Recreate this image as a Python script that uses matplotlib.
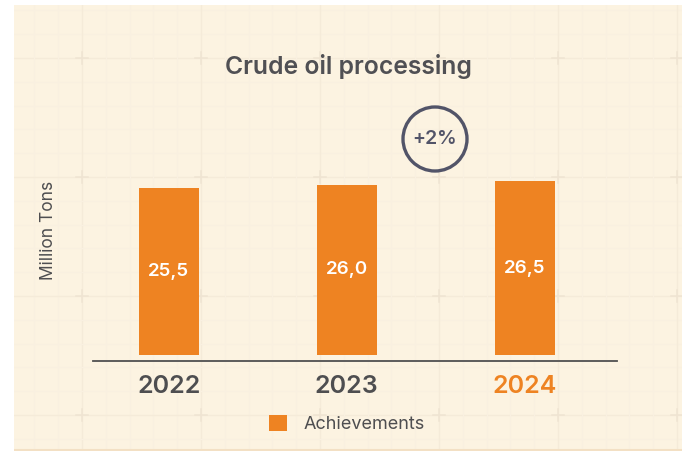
import matplotlib
matplotlib.use("Agg")
import matplotlib.pyplot as plt
from matplotlib.patches import Rectangle, Ellipse
import numpy as np

# ---- data ----
years = ["2022", "2023", "2024"]
values = [25.5, 26.0, 26.5]
value_labels = ["25,5", "26,0", "26,5"]
title = "Crude oil processing"
ylabel = "Million Tons"
legend_label = "Achievements"
badge = "+2%"

W, H = 686, 454
DPI = 100
ORANGE = "#EE8322"
DARK = "#4E4E50"
BADGE = "#525468"
CREAM = "#FCF3E1"
FONT = ["Inter", "DejaVu Sans"]
plt.rcParams["font.family"] = FONT

fig = plt.figure(figsize=(W / DPI, H / DPI), dpi=DPI, facecolor="white")

def fx(px):
    return px / W

def fy(py):
    return 1 - py / H

# cream panel
x0, x1, y0, y1 = 14, 682, 5, 451
bg = fig.add_axes([fx(x0), fy(y1), fx(x1 - x0), (y1 - y0) / H])
bg.set_xlim(x0, x1)
bg.set_ylim(y1, y0)
bg.set_facecolor(CREAM)
for s in bg.spines.values():
    s.set_visible(False)
bg.set_xticks([]); bg.set_yticks([])
# faint grid (decorative)
major_x0, major_y0, step = 82.0, 177.0, 119.0
minor = step / 5
MAJ_C, MIN_C, CROSS_C = "#F5EBD9", "#F9F0E0", "#EFE4D2"
for k in range(-10, 40):
    gx = major_x0 + k * minor
    if x0 < gx < x1:
        major = (k % 5 == 0)
        bg.axvline(gx, color=MAJ_C if major else MIN_C, lw=1.0 if major else 0.8, zorder=0)
    gy = major_y0 + k * minor
    if y0 < gy < y1:
        major = (k % 5 == 0)
        bg.axhline(gy, color=MAJ_C if major else MIN_C, lw=1.0 if major else 0.8, zorder=0)
for i in range(-2, 7):
    for j in range(-2, 5):
        cx, cy = major_x0 + i * step, major_y0 + j * step
        if x0 < cx < x1 and y0 < cy < y1:
            bg.plot([cx - 6, cx + 6], [cy, cy], color=CROSS_C, lw=1.1, zorder=1)
            bg.plot([cx, cx], [cy - 6, cy + 6], color=CROSS_C, lw=1.1, zorder=1)
bg.axhline(y1 - 1, color="#F3E0C4", lw=1.5)

# main axes
ax_l, ax_r, ax_b, ax_t = 93, 617, 361, 100
ax = fig.add_axes([fx(ax_l), fy(ax_b), fx(ax_r - ax_l), (ax_b - ax_t) / H])
ax.patch.set_alpha(0)
scale = 6.55  # px per unit
x = np.arange(len(years))
unit_px = 178.0
ax.set_xlim(-(169 - ax_l) / unit_px, 2 + (ax_r - 524.5) / unit_px)
ax.set_ylim(-6 / scale, (355 - ax_t) / scale)
bars = ax.bar(x, values, width=60 / unit_px, color=ORANGE, label=legend_label, zorder=3)
for xi, v, lab in zip(x, values, value_labels):
    ax.text(xi, v / 2, lab, ha="center", va="center", color="white",
            fontsize=13.5, fontweight="semibold")
for s in ["top", "right", "left"]:
    ax.spines[s].set_visible(False)
ax.spines["bottom"].set_color("#505050")
ax.spines["bottom"].set_linewidth(1.3)
ax.set_yticks([])
ax.set_xticks(x)
ax.set_xticklabels(years, fontsize=18, fontweight="semibold")
ax.tick_params(axis="x", length=0, pad=10)
for t, c in zip(ax.get_xticklabels(), [DARK, DARK, ORANGE]):
    t.set_color(c)

# y label
fig.text(fx(48.5), fy(230), ylabel, rotation=90, ha="center", va="center",
         fontsize=12.5, color=DARK)

# title
fig.text(fx(348), fy(74), title, ha="center", va="baseline", fontsize=17.8,
         fontweight="semibold", color="#505054")

# badge circle
fig.add_artist(Ellipse((fx(435), fy(139)), 64 / W, 64 / H, transform=fig.transFigure,
                       facecolor="none", edgecolor=BADGE, lw=2.4))
fig.text(fx(435), fy(139), badge, ha="center", va="center", fontsize=14,
         fontweight="semibold", color=BADGE)

# legend
leg = fig.legend(handles=[bars], labels=[legend_label], loc="center",
                 bbox_to_anchor=(fx(347), fy(424)), frameon=False, fontsize=13,
                 handlelength=1.0, handleheight=1.0, handletextpad=0.9, labelcolor=DARK)

fig.savefig("out.png", dpi=DPI, facecolor="white")
